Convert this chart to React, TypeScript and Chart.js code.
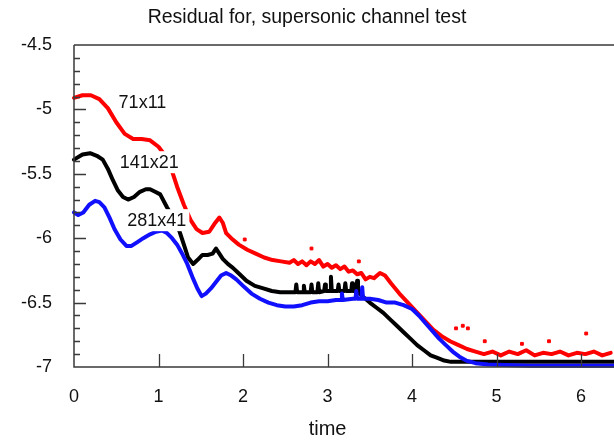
import { useEffect, useRef } from "react";
import { Chart, registerables } from "chart.js";

Chart.register(...registerables);

const TITLE = "Residual for, supersonic channel test";
const X_TITLE = "time";
const X_MIN = 0;
const X_MAX = 6.33;
const Y_MIN = -7;
const Y_MAX = -4.5;
const X_STEP = 1;
const Y_STEP = 0.5;
const Y_MINOR_STEP = 0.1;

// 71x11 (red)
const redT = [0, 0.1, 0.2, 0.3, 0.4, 0.5, 0.6, 0.7, 0.8, 0.9, 1.0, 1.08, 1.15, 1.22, 1.3, 1.38, 1.45, 1.52, 1.6, 1.66, 1.72, 1.76, 1.8, 1.86, 1.95, 2.05, 2.15, 2.25, 2.35, 2.45, 2.55, 2.6, 2.65, 2.7, 2.75, 2.8, 2.85, 2.9, 2.95, 3.0, 3.05, 3.1, 3.15, 3.2, 3.25, 3.3, 3.35, 3.4, 3.45, 3.5, 3.55, 3.62, 3.68, 3.75, 3.85, 3.95, 4.05, 4.15, 4.25, 4.35, 4.45, 4.55, 4.65, 4.75, 4.85, 4.95, 5.05, 5.15, 5.25, 5.35, 5.45, 5.55, 5.65, 5.75, 5.85, 5.95, 6.05, 6.15, 6.25, 6.35, 6.45];
const redV = [-4.91, -4.89, -4.89, -4.92, -4.99, -5.1, -5.19, -5.23, -5.23, -5.24, -5.29, -5.36, -5.46, -5.6, -5.74, -5.86, -5.93, -5.96, -5.95, -5.89, -5.84, -5.88, -5.96, -6.0, -6.05, -6.09, -6.12, -6.15, -6.17, -6.18, -6.19, -6.17, -6.2, -6.18, -6.21, -6.18, -6.2, -6.17, -6.22, -6.2, -6.23, -6.21, -6.24, -6.22, -6.26, -6.25, -6.28, -6.27, -6.32, -6.3, -6.31, -6.27, -6.29, -6.35, -6.43, -6.5, -6.57, -6.64, -6.71, -6.76, -6.8, -6.83, -6.86, -6.88, -6.9, -6.88, -6.91, -6.88, -6.9, -6.87, -6.91, -6.89, -6.9, -6.88, -6.91, -6.89, -6.9, -6.88, -6.91, -6.89, -6.9];
const redDotT = [2.02, 2.81, 3.37, 4.52, 4.6, 4.66, 4.86, 5.3, 5.62, 6.06];
const redDotV = [-6.01, -6.08, -6.18, -6.7, -6.68, -6.7, -6.8, -6.82, -6.8, -6.74];

// 141x21 (black)
const blackT = [0, 0.1, 0.19, 0.27, 0.34, 0.4, 0.46, 0.52, 0.58, 0.64, 0.71, 0.78, 0.85, 0.9, 0.96, 1.02, 1.1, 1.17, 1.25, 1.3, 1.35, 1.41, 1.46, 1.52, 1.58, 1.64, 1.68, 1.72, 1.76, 1.82, 1.88, 1.96, 2.04, 2.14, 2.24, 2.34, 2.44, 2.54, 2.62, 2.63, 2.64, 2.71, 2.72, 2.73, 2.8, 2.81, 2.82, 2.88, 2.89, 2.9, 2.96, 2.97, 2.98, 3.03, 3.04, 3.05, 3.12, 3.13, 3.14, 3.2, 3.21, 3.22, 3.28, 3.29, 3.3, 3.34, 3.35, 3.36, 3.43, 3.5, 3.58, 3.66, 3.74, 3.82, 3.9, 3.98, 4.06, 4.14, 4.22, 4.3, 4.38, 4.46, 4.55, 4.7, 4.9, 5.2, 5.5, 5.8, 6.1, 6.45];
const blackV = [-5.39, -5.35, -5.34, -5.36, -5.39, -5.46, -5.55, -5.63, -5.68, -5.7, -5.68, -5.64, -5.62, -5.62, -5.64, -5.66, -5.76, -5.84, -5.95, -6.05, -6.15, -6.2, -6.17, -6.13, -6.13, -6.12, -6.08, -6.12, -6.16, -6.2, -6.23, -6.28, -6.33, -6.37, -6.39, -6.41, -6.42, -6.42, -6.42, -6.36, -6.42, -6.42, -6.37, -6.42, -6.42, -6.36, -6.42, -6.42, -6.35, -6.42, -6.41, -6.36, -6.41, -6.41, -6.3, -6.41, -6.41, -6.36, -6.41, -6.41, -6.35, -6.41, -6.41, -6.35, -6.41, -6.41, -6.33, -6.42, -6.46, -6.5, -6.54, -6.58, -6.63, -6.68, -6.73, -6.78, -6.83, -6.87, -6.91, -6.93, -6.95, -6.96, -6.96, -6.96, -6.96, -6.96, -6.96, -6.96, -6.96, -6.96];

// 281x41 (blue)
const blueT = [0, 0.05, 0.11, 0.18, 0.25, 0.3, 0.36, 0.42, 0.48, 0.55, 0.62, 0.68, 0.75, 0.82, 0.9, 0.97, 1.04, 1.1, 1.16, 1.22, 1.28, 1.34, 1.4, 1.46, 1.51, 1.56, 1.62, 1.68, 1.74, 1.8, 1.86, 1.92, 2.0, 2.1, 2.2, 2.3, 2.4, 2.5, 2.6, 2.7, 2.8, 2.9, 3.0, 3.1, 3.16, 3.17, 3.18, 3.3, 3.33, 3.34, 3.35, 3.4, 3.41, 3.42, 3.5, 3.6, 3.7, 3.8, 3.9, 4.0, 4.08, 4.16, 4.24, 4.32, 4.4, 4.48, 4.56, 4.64, 4.75, 4.9, 5.1, 5.4, 5.7, 6.0, 6.45];
const blueV = [-5.8, -5.82, -5.8, -5.74, -5.71, -5.72, -5.76, -5.84, -5.93, -6.01, -6.06, -6.06, -6.03, -6.0, -5.97, -5.95, -5.94, -5.96, -6.0, -6.05, -6.12, -6.2, -6.3, -6.39, -6.45, -6.43, -6.39, -6.34, -6.29, -6.27, -6.29, -6.32, -6.37, -6.43, -6.47, -6.5, -6.52, -6.53, -6.53, -6.52, -6.5, -6.49, -6.49, -6.48, -6.48, -6.43, -6.48, -6.47, -6.47, -6.41, -6.47, -6.47, -6.38, -6.47, -6.47, -6.48, -6.5, -6.5, -6.52, -6.55, -6.6, -6.66, -6.72, -6.78, -6.83, -6.88, -6.92, -6.95, -6.97, -6.98, -6.985, -6.99, -6.99, -6.99, -6.99];

const SERIES_NAMES = ["71x11", "141x21", "281x41"];
// anchor (data coords) of each in-plot series label
const LABEL_AT_T = [0.81, 0.89, 0.98];
const LABEL_AT_V = [-4.94, -5.41, -5.86];

const FONT = "'Liberation Sans', Arial, Helvetica, sans-serif";

const pts = (t: number[], v: number[]) => t.map((x, i) => ({ x, y: v[i] }));

const decorPlugin = {
  id: "decor",
  afterDatasetsDraw(chart: any) {
    const { ctx, chartArea: a, scales } = chart;
    const xs = scales.x;
    const ys = scales.y;
    const W = chart.width;
    ctx.save();
    // series labels with white boxes
    ctx.font = `18px ${FONT}`;
    ctx.textAlign = "center";
    ctx.textBaseline = "middle";
    SERIES_NAMES.forEach((name, i) => {
      const px = xs.getPixelForValue(LABEL_AT_T[i]);
      const py = ys.getPixelForValue(LABEL_AT_V[i]);
      const w = ctx.measureText(name).width;
      ctx.fillStyle = "#ffffff";
      ctx.fillRect(px - w / 2 - 3, py - 11, w + 6, 22);
      ctx.fillStyle = "#111111";
      ctx.fillText(name, px, py + 1);
    });
    // frame
    ctx.strokeStyle = "#3a3a3a";
    ctx.lineWidth = 1.5;
    ctx.beginPath();
    ctx.moveTo(a.left, a.top);
    ctx.lineTo(W, a.top);
    ctx.moveTo(a.left, a.top);
    ctx.lineTo(a.left, a.bottom);
    ctx.lineTo(W, a.bottom);
    ctx.stroke();
    // y ticks (inward)
    ctx.lineWidth = 1.3;
    const nMinor = Math.round((Y_MAX - Y_MIN) / Y_MINOR_STEP);
    const perMajor = Math.round(Y_STEP / Y_MINOR_STEP);
    ctx.beginPath();
    for (let k = 1; k < nMinor; k++) {
      const py = Math.round(ys.getPixelForValue(Y_MIN + k * Y_MINOR_STEP)) + 0.5;
      const len = k % perMajor === 0 ? 12 : 6;
      ctx.moveTo(a.left, py);
      ctx.lineTo(a.left + len, py);
    }
    ctx.stroke();
    // x ticks (inward)
    ctx.beginPath();
    for (let t = X_MIN + X_STEP; t <= X_MAX; t += X_STEP) {
      const px = Math.round(xs.getPixelForValue(t)) + 0.5;
      ctx.moveTo(px, a.bottom);
      ctx.lineTo(px, a.bottom - 13);
    }
    ctx.stroke();
    // x axis title
    ctx.fillStyle = "#111111";
    ctx.font = `20px ${FONT}`;
    ctx.textAlign = "center";
    ctx.textBaseline = "middle";
    ctx.fillText(X_TITLE, xs.getPixelForValue(3), 429);
    ctx.restore();
  },
};

export default function App() {
  const ref = useRef<HTMLCanvasElement | null>(null);
  useEffect(() => {
    if (!ref.current) return;
    const line = (data: any, color: string, order: number) => ({
      type: "line" as const,
      data,
      borderColor: color,
      backgroundColor: color,
      borderWidth: 4,
      borderJoinStyle: "round" as const,
      borderCapStyle: "round" as const,
      pointRadius: 0,
      tension: 0,
      clip: false as any,
      order,
    });
    const chart = new Chart(ref.current, {
      type: "line",
      data: {
        datasets: [
          line(pts(blueT, blueV), "#1010ff", 0),
          line(pts(blackT, blackV), "#000000", 1),
          line(pts(redT, redV), "#ff0000", 2),
          {
            type: "scatter" as const,
            data: pts(redDotT, redDotV),
            backgroundColor: "#ff0000",
            borderColor: "#ff0000",
            pointRadius: 2,
            pointStyle: "rect",
            order: 3,
          } as any,
        ],
      },
      options: {
        animation: false,
        responsive: false,
        maintainAspectRatio: false,
        layout: { padding: { left: 0, right: 0, top: 0, bottom: 0 } },
        plugins: {
          legend: { display: false },
          tooltip: { enabled: false },
          title: {
            display: true,
            text: TITLE,
            color: "#111111",
            font: { family: FONT, size: 19.5, weight: "normal" },
            padding: { top: 6, bottom: 15.6 },
          },
        },
        scales: {
          x: {
            type: "linear",
            min: X_MIN,
            max: X_MAX,
            grid: { display: false, drawTicks: false },
            border: { display: false },
            ticks: {
              stepSize: X_STEP,
              includeBounds: false,
              color: "#111111",
              font: { family: FONT, size: 18 },
              padding: 19,
              maxRotation: 0,
              callback: (v: any) => String(v),
            },
            afterFit: (s: any) => {
              s.height = 73;
            },
          },
          y: {
            type: "linear",
            min: Y_MIN,
            max: Y_MAX,
            grid: { display: false, drawTicks: false },
            border: { display: false },
            ticks: {
              stepSize: Y_STEP,
              color: "#111111",
              font: { family: FONT, size: 18 },
              padding: 22,
              callback: (v: any) => String(v),
            },
            afterFit: (s: any) => {
              s.width = 74;
            },
          },
        },
      },
      plugins: [decorPlugin],
    });
    return () => chart.destroy();
  }, []);
  return (
    <div style={{ position: "absolute", left: 0, top: 0, width: 614, height: 440, background: "#fff" }}>
      <canvas ref={ref} width={614} height={440} style={{ width: 614, height: 440 }} />
    </div>
  );
}
